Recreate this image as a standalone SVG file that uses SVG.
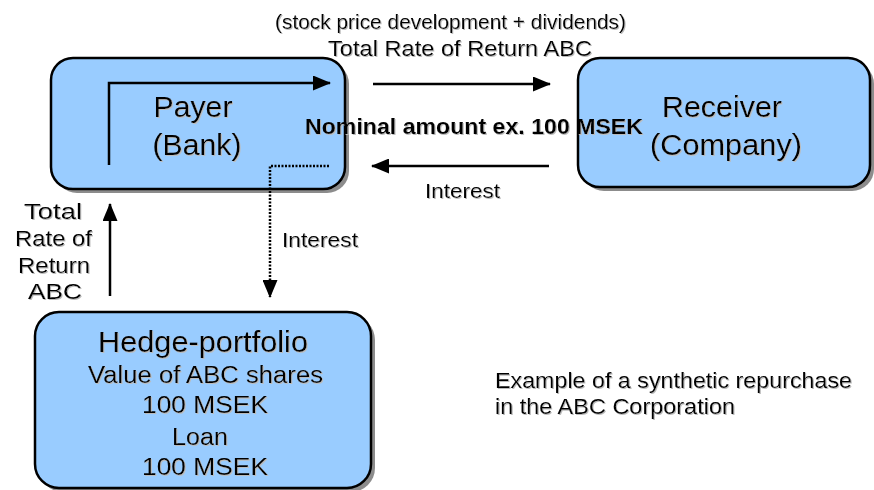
<svg xmlns="http://www.w3.org/2000/svg" width="874" height="490" viewBox="0 0 874 490">
  <defs>
    <marker id="ah" viewBox="0 0 18 15" refX="17" refY="7.5" markerWidth="18" markerHeight="15" markerUnits="userSpaceOnUse" orient="auto">
      <path d="M0,0 L18,7.5 L0,15 Z" fill="#000"/>
    </marker>
    <filter id="ts" x="-5%" y="-20%" width="110%" height="140%">
      <feDropShadow dx="1" dy="1" stdDeviation="0.4" flood-color="#bbbbbb" flood-opacity="1"/>
    </filter>
  </defs>
  <style>
    .box { fill: #99CCFF; stroke: #000; stroke-width: 2.5; }
    .shadow { fill: #8c8c8c; }
    text { font-family: "Liberation Sans", Arial, sans-serif; fill: #000; text-anchor: middle; filter: url(#ts); }
    .big { font-size: 29px; }
    .mid { font-size: 22.5px; }
    .bold { font-weight: bold; }
    .ln { stroke: #000; stroke-width: 2.5; fill: none; }
    .dot { stroke-dasharray: 2 1.5; }
  </style>
  <rect width="874" height="490" fill="#fff"/>

  <g id="payer">
    <rect class="shadow" x="55" y="62" width="294" height="131" rx="22"/>
    <rect class="box" x="51" y="58" width="294" height="131" rx="22"/>
    <text class="big" x="193" y="117" textLength="79" lengthAdjust="spacingAndGlyphs">Payer</text>
    <text class="big" x="197" y="155" textLength="89" lengthAdjust="spacingAndGlyphs">(Bank)</text>
  </g>

  <g id="receiver">
    <rect class="shadow" x="582" y="62" width="292" height="129" rx="22"/>
    <rect class="box" x="578" y="58" width="292" height="129" rx="22"/>
    <text class="big" x="722" y="117" textLength="120" lengthAdjust="spacingAndGlyphs">Receiver</text>
    <text class="big" x="726" y="155" textLength="152" lengthAdjust="spacingAndGlyphs">(Company)</text>
  </g>

  <g id="hedge">
    <rect class="shadow" x="39" y="316" width="336" height="176" rx="24"/>
    <rect class="box" x="35" y="312" width="336" height="176" rx="24"/>
    <text style="font-size:30px" x="203" y="352" textLength="210" lengthAdjust="spacingAndGlyphs">Hedge-portfolio</text>
    <text style="font-size:23.5px" x="205.5" y="383" textLength="235" lengthAdjust="spacingAndGlyphs">Value of ABC shares</text>
    <text style="font-size:23.5px" x="205" y="413" textLength="126" lengthAdjust="spacingAndGlyphs">100 MSEK</text>
    <text style="font-size:23.5px" x="200" y="445" textLength="56" lengthAdjust="spacingAndGlyphs">Loan</text>
    <text style="font-size:23.5px" x="205" y="475" textLength="126" lengthAdjust="spacingAndGlyphs">100 MSEK</text>
  </g>

  <g id="connectors">
    <polyline class="ln" points="109,165 109,83 330,83" marker-end="url(#ah)"/>
    <polyline class="ln dot" points="329,166 270,166 270,297" marker-end="url(#ah)"/>
    <line class="ln" x1="373" y1="84" x2="550" y2="84" marker-end="url(#ah)"/>
    <line class="ln" x1="549" y1="166" x2="372" y2="166" marker-end="url(#ah)"/>
    <line class="ln" x1="110" y1="296" x2="110" y2="204" marker-end="url(#ah)"/>
  </g>

  <g id="labels">
    <text style="font-size:20.5px" x="450.5" y="29" textLength="351" lengthAdjust="spacingAndGlyphs">(stock price development + dividends)</text>
    <text class="mid" x="460" y="56" textLength="264" lengthAdjust="spacingAndGlyphs">Total Rate of Return ABC</text>
    <text class="bold" style="font-size:21.5px" x="474" y="134" textLength="338" lengthAdjust="spacingAndGlyphs">Nominal amount ex. 100 MSEK</text>
    <text style="font-size:21px" x="462.5" y="198" textLength="75" lengthAdjust="spacingAndGlyphs">Interest</text>
    <text style="font-size:21px" x="320" y="247" textLength="76" lengthAdjust="spacingAndGlyphs">Interest</text>
    <text class="mid" x="53" y="219" textLength="58" lengthAdjust="spacingAndGlyphs">Total</text>
    <text class="mid" x="53.5" y="246" textLength="77" lengthAdjust="spacingAndGlyphs">Rate of</text>
    <text class="mid" x="54" y="273" textLength="72" lengthAdjust="spacingAndGlyphs">Return</text>
    <text class="mid" x="55" y="299" textLength="54" lengthAdjust="spacingAndGlyphs">ABC</text>
    <text class="mid" style="text-anchor:start" x="495" y="388" textLength="357" lengthAdjust="spacingAndGlyphs">Example of a synthetic repurchase</text>
    <text class="mid" style="text-anchor:start" x="495" y="414" textLength="240" lengthAdjust="spacingAndGlyphs">in the ABC Corporation</text>
  </g>
</svg>
